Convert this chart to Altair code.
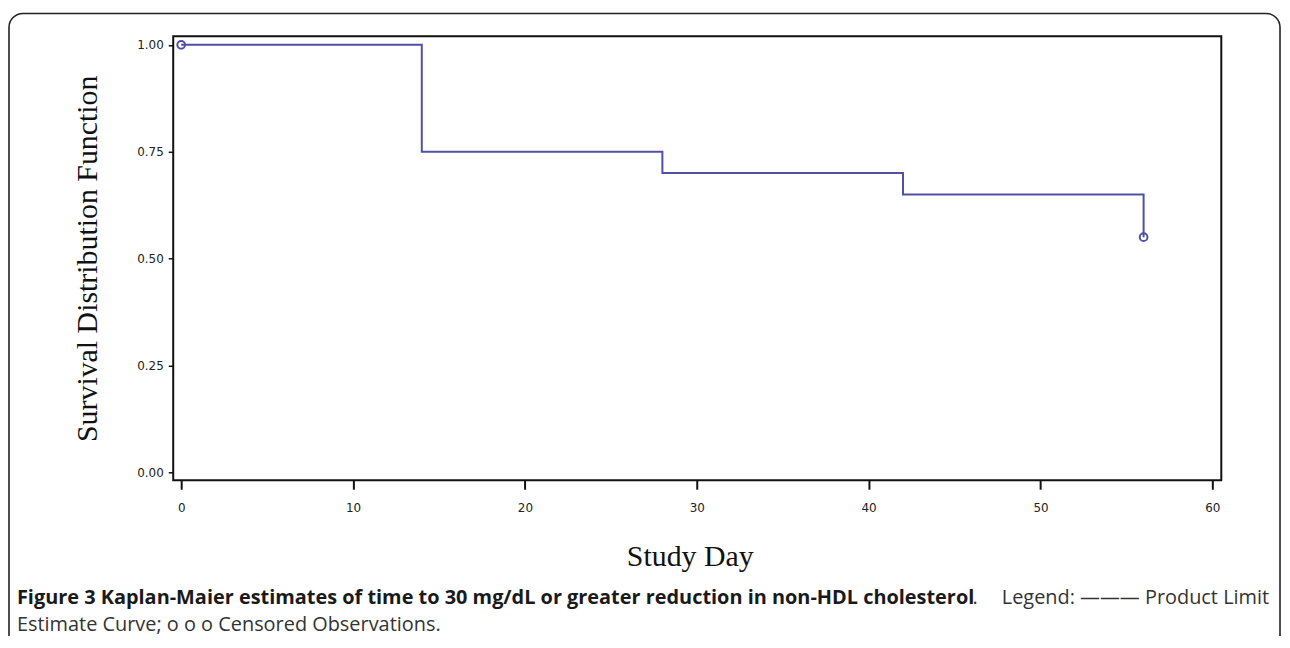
import altair as alt
import pandas as pd

# Kaplan-Meier step curve (product limit estimate)
days = [0, 14, 28, 42, 56]
surv = [1.00, 0.75, 0.70, 0.65, 0.55]

# Censored observations
cens_days = [0, 56]
cens_surv = [1.00, 0.55]

x_ticks = [0, 10, 20, 30, 40, 50, 60]
y_ticks = [0.00, 0.25, 0.50, 0.75, 1.00]

caption_bold = "Figure 3 Kaplan-Maier estimates of time to 30 mg/dL or greater reduction in non-HDL cholesterol"
caption_dot = "."
caption_rest1 = "Legend: \u2014\u2014\u2014 Product Limit"
caption_line2 = "Estimate Curve; o o o Censored Observations."

curve_color = "#5050a8"

steps = pd.DataFrame({"day": days, "surv": surv})
censored = pd.DataFrame({"day": cens_days, "surv": cens_surv})
one = pd.DataFrame({"k": [0]})

x_enc = alt.X(
    "day:Q",
    scale=alt.Scale(domain=[-0.463, 60.52], nice=False, zero=False),
    axis=alt.Axis(
        values=x_ticks, format="d", title="Study Day",
        titleX=519, titleY=86, titleBaseline="alphabetic", titleAlign="center",
        grid=False, domain=False, tickSize=9, tickWidth=2, tickColor="#111",
        labelPadding=13,
    ),
)
y_enc = alt.Y(
    "surv:Q",
    scale=alt.Scale(domain=[-0.0186, 1.0198], nice=False, zero=False),
    axis=alt.Axis(
        values=y_ticks, format=".2f", title="Survival Distribution Function",
        titleX=-77, titleY=223, titleAngle=270, titleBaseline="alphabetic", titleAlign="center",
        grid=False, domain=False, tickSize=5, tickWidth=1.5, tickColor="#111",
        labelPadding=5,
    ),
)

line = alt.Chart(steps).mark_line(
    interpolate="step-after", color=curve_color, strokeWidth=2
).encode(x=x_enc, y=y_enc)

pts = alt.Chart(censored).mark_point(
    shape="circle", filled=False, color=curve_color, strokeWidth=2, size=60, opacity=1
).encode(x="day:Q", y="surv:Q")

border = alt.Chart(one).mark_rect(
    fill=None, stroke="#222", strokeWidth=1.6, cornerRadius=14
).encode(
    x=alt.value(-165), x2=alt.value(1112), y=alt.value(-23), y2=alt.value(700)
)

cap1 = alt.Chart(one).mark_text(
    align="left", baseline="alphabetic", font="Open Sans", fontSize=20,
    fontWeight="bold", color="#1a1a1a"
).encode(x=alt.value(-157), y=alt.value(570), text=alt.value(caption_bold))

cap1dot = alt.Chart(one).mark_text(
    align="left", baseline="alphabetic", font="Open Sans", fontSize=20,
    color="#333"
).encode(x=alt.value(803), y=alt.value(570), text=alt.value(caption_dot))

cap1b = alt.Chart(one).mark_text(
    align="right", baseline="alphabetic", font="Open Sans", fontSize=20,
    color="#333"
).encode(x=alt.value(1101), y=alt.value(570), text=alt.value(caption_rest1))

cap2 = alt.Chart(one).mark_text(
    align="left", baseline="alphabetic", font="Open Sans", fontSize=20,
    color="#333"
).encode(x=alt.value(-157), y=alt.value(597), text=alt.value(caption_line2))

chart = alt.layer(border, line, pts, cap1, cap1dot, cap1b, cap2).properties(
    width=1053, height=446,
    autosize=alt.AutoSizeParams(type="none"),
    padding={"left": 166, "top": 27, "right": 61, "bottom": 155},
    background="white",
).configure_view(
    stroke="#111", strokeWidth=2
).configure_axis(
    labelFont="DejaVu Sans", labelFontSize=12, labelColor="#222",
    titleFont="Liberation Serif", titleFontSize=30, titleFontWeight="normal",
    titleColor="#111",
)

chart.save("out.html", embed_options={"renderer": "svg", "actions": False})
